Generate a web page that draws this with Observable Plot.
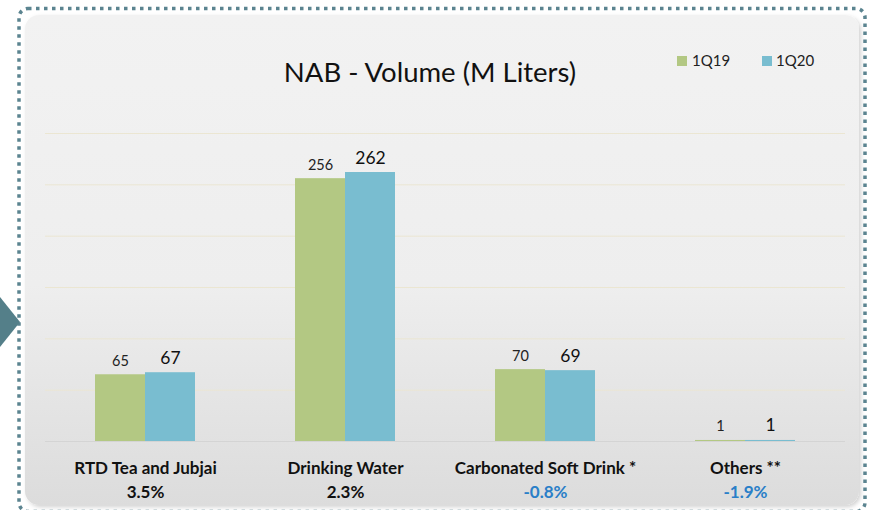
<!DOCTYPE html>
<html>
<head>
<meta charset="utf-8">
<script src="https://cdn.jsdelivr.net/npm/d3@7"></script>
<script src="https://cdn.jsdelivr.net/npm/@observablehq/plot@0.6"></script>
<style>
  html, body { margin: 0; padding: 0; background: #ffffff; }
  #wrap { position: relative; width: 870px; height: 510px; overflow: hidden; font-family: Lato, "Noto Sans", sans-serif; }
  #deco { position: absolute; left: 0; top: 0; }
  #chart { position: absolute; left: 0; top: 0; }
  #title { position: absolute; left: 0; width: 860px; top: 54.5px; text-align: center; font-size: 27.5px; line-height: 1.2; color: #111; }
  .leg { position: absolute; top: 51px; font-size: 15px; line-height: 1.2; color: #222; }
  .sw { position: absolute; width: 10px; height: 10px; top: 56px; }
</style>
</head>
<body>
<div id="wrap">
  <svg id="deco" width="870" height="510">
    <defs>
      <linearGradient id="bg" x1="0" y1="0" x2="0" y2="1">
        <stop offset="0" stop-color="#f2f2f2"/>
        <stop offset="0.55" stop-color="#eeeeee"/>
        <stop offset="1" stop-color="#dcdcdc"/>
      </linearGradient>
      <filter id="sh" x="-5%" y="-5%" width="110%" height="110%">
        <feDropShadow dx="2" dy="2" stdDeviation="2" flood-color="#000" flood-opacity="0.18"/>
      </filter>
    </defs>
    <rect x="25" y="15" width="834" height="490" rx="14" fill="url(#bg)" filter="url(#sh)"/>
    <rect x="19" y="8.5" width="846" height="503" rx="9" fill="none" stroke="#5b8490" stroke-width="3.5" stroke-dasharray="3.5 4.5"/>
    <polygon points="0,297 20,322 0,347" fill="#547f89"/>
  </svg>
  <div id="chart"></div>
  <div id="title">NAB - Volume (M Liters)</div>
  <div class="sw" style="left:677px;background:#b3c883"></div>
  <div class="leg" style="left:692px">1Q19</div>
  <div class="sw" style="left:762px;background:#79bdd0"></div>
  <div class="leg" style="left:776px">1Q20</div>
</div>
<script>
const categories = ["RTD Tea and Jubjai", "Drinking Water", "Carbonated Soft Drink *", "Others **"];
const series = ["1Q19", "1Q20"];
const values1Q19 = [65, 256, 70, 1];
const values1Q20 = [67, 262, 69, 1];
const growthLabels = ["3.5%", "2.3%", "-0.8%", "-1.9%"];
const gridTicks = [50, 100, 150, 200, 250, 300];
const seriesColors = ["#b3c883", "#79bdd0"];

const data = categories.flatMap((c, i) => [
  {cat: c, series: "1Q19", value: values1Q19[i]},
  {cat: c, series: "1Q20", value: values1Q20[i]}
]);
const catData = categories.map((c, i) => ({cat: c, growth: growthLabels[i]}));

const chart = Plot.plot({
  width: 870,
  height: 510,
  marginTop: 133,
  marginBottom: 69,
  marginLeft: 45,
  marginRight: 25,
  style: {background: "transparent", fontFamily: "Lato, 'Noto Sans', sans-serif", overflow: "visible"},
  fx: {domain: categories, padding: 0, axis: null},
  x: {domain: series, paddingInner: 0, paddingOuter: 1, axis: null},
  y: {domain: [0, 300], axis: null},
  color: {domain: series, range: seriesColors},
  marks: [
    Plot.ruleY(gridTicks, {stroke: "#ebe6d2", strokeWidth: 1}),
    Plot.ruleY([0], {stroke: "#d4d4d4", strokeWidth: 1}),
    Plot.barY(data, {fx: "cat", x: "series", y: "value", fill: "series", insetLeft: 0, insetRight: 0}),
    Plot.text(data.filter(d => d.series === "1Q19"), {
      fx: "cat", x: "series", y: "value", text: d => String(d.value),
      lineAnchor: "bottom", dy: -9, fontSize: 14.5, fill: "#222"
    }),
    Plot.text(data.filter(d => d.series === "1Q20"), {
      fx: "cat", x: "series", y: "value", text: d => String(d.value),
      lineAnchor: "bottom", dy: -9, fontSize: 17.5, fill: "#111"
    }),
    Plot.text(catData, {
      fx: "cat", text: "cat", frameAnchor: "bottom", lineAnchor: "bottom",
      dy: 32, fontSize: 17, fontWeight: "bold", fill: "#111"
    }),
    Plot.text(catData.filter(d => !d.growth.startsWith("-")), {
      fx: "cat", text: "growth", frameAnchor: "bottom", lineAnchor: "bottom",
      dy: 56, fontSize: 17, fontWeight: "bold", fill: "#111"
    }),
    Plot.text(catData.filter(d => d.growth.startsWith("-")), {
      fx: "cat", text: "growth", frameAnchor: "bottom", lineAnchor: "bottom",
      dy: 56, fontSize: 17, fontWeight: "bold", fill: "#2a7fc8"
    })
  ]
});
document.getElementById("chart").appendChild(chart);
</script>
</body>
</html>
